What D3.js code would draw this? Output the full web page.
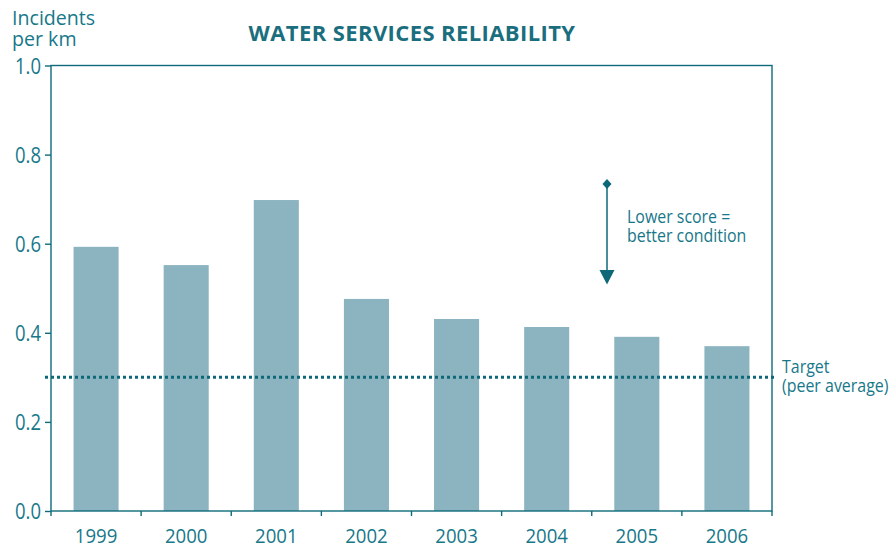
<!DOCTYPE html>
<html><head><meta charset="utf-8">
<script src="https://cdn.jsdelivr.net/npm/d3@7"></script>
<style>body{margin:0;background:#fff}svg{display:block}</style>
</head><body>
<svg id="c" width="892" height="548"></svg>
<script>
const years = ["1999","2000","2001","2002","2003","2004","2005","2006"];
const values = [0.593, 0.552, 0.698, 0.476, 0.431, 0.413, 0.391, 0.370];
const yTicks = [0.0, 0.2, 0.4, 0.6, 0.8, 1.0];
const target = 0.30;

const font = "'Open Sans','Noto Sans',sans-serif";
const teal = "#17788a", axisCol = "#0f6b7b", barCol = "#8bb4c0", dark = "#0e6877";
const m = {l:51, r:772, t:65.5, b:511};
const svg = d3.select("#c");
const x = d3.scaleBand().domain(years).range([m.l, m.r]).paddingInner(0.5).paddingOuter(0.25);
const y = d3.scaleLinear().domain([0,1]).range([m.b, m.t]);

// helper: text (one or more lines) with horizontal compression (narrow look)
function txt(g, px, py, lines, size, anchor, sx, lh) {
  const t = g.append("text")
    .attr("transform", `translate(${px},${py}) scale(${sx},1)`)
    .attr("text-anchor", anchor || "start")
    .attr("fill", teal).style("font-family", font).style("font-size", size + "px");
  [].concat(lines).forEach((s, i) => t.append("tspan").attr("x", 0).attr("y", i * (lh || 0)).text(s));
  return t;
}

svg.selectAll("rect.bar").data(values).enter().append("rect").attr("class","bar")
  .attr("x",(d,i)=>x(years[i])).attr("y",d=>y(d))
  .attr("width",x.bandwidth()).attr("height",d=>y(0)-y(d)).attr("fill",barCol);

// frame
svg.append("rect").attr("x",m.l).attr("y",m.t).attr("width",m.r-m.l).attr("height",m.b-m.t)
  .attr("fill","none").attr("stroke",axisCol).attr("stroke-width",1.4);

// y axis ticks + labels
const ya = svg.append("g").attr("transform",`translate(${m.l},0)`)
  .call(d3.axisLeft(y).tickValues(yTicks).tickSize(6).tickFormat(""));
ya.select(".domain").remove();
ya.selectAll("line").attr("stroke",axisCol).attr("stroke-width",1.4);
const yl = svg.append("g");
yTicks.forEach(v => txt(yl, 41, y(v) + 8, d3.format(".1f")(v), 21, "end", 0.88));

// x axis: ticks at category boundaries
const bounds = d3.range(years.length+1).map(i=>m.l + i*(m.r-m.l)/years.length);
svg.append("g").selectAll("line").data(bounds).enter().append("line")
  .attr("x1",d=>d).attr("x2",d=>d).attr("y1",m.b).attr("y2",m.b+5)
  .attr("stroke",axisCol).attr("stroke-width",1.4);
const xl = svg.append("g");
years.forEach(yr => txt(xl, x(yr)+x.bandwidth()/2, 542.5, yr, 20, "middle", 0.93));

// target line
svg.append("line").attr("x1",45).attr("x2",775).attr("y1",y(target)).attr("y2",y(target))
  .attr("stroke",dark).attr("stroke-width",3).attr("stroke-dasharray","3,3");
txt(svg, 782, 373, ["Target", "(peer average)"], 19, "start", 0.84, 19);

// title
svg.append("text").attr("x",412).attr("y",41).attr("text-anchor","middle").attr("fill","#1a6e7e")
  .style("font-family",font).style("font-weight","bold").style("font-size","22px")
  .style("letter-spacing","0.4px").text("WATER SERVICES RELIABILITY");

// y label
txt(svg, 12, 25, ["Incidents", "per km"], 20, "start", 0.98, 21);

// annotation arrow
const ax = 607;
svg.append("line").attr("x1",ax).attr("x2",ax).attr("y1",184).attr("y2",272).attr("stroke",dark).attr("stroke-width",1.5);
svg.append("path").attr("d",`M${ax},179 L${ax+4.5},184 L${ax},189 L${ax-4.5},184Z`).attr("fill",dark);
svg.append("path").attr("d",`M${ax-7.5},270 L${ax+7.5},270 L${ax},284.5Z`).attr("fill",dark);
txt(svg, 627, 223, ["Lower score =", "better condition"], 18, "start", 0.885, 19);
</script>
</body></html>
